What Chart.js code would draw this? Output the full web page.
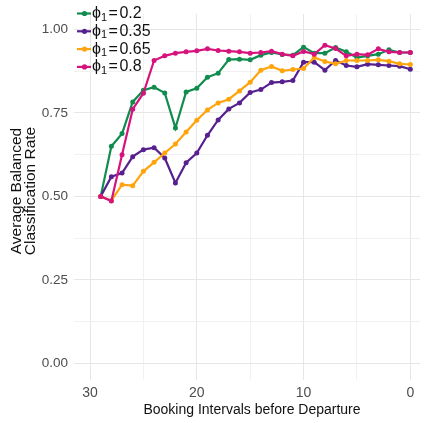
<!DOCTYPE html>
<html>
<head>
<meta charset="utf-8">
<script src="https://cdn.jsdelivr.net/npm/chart.js@4"></script>
<style>
  html, body { margin: 0; padding: 0; background: #ffffff; overflow: hidden; }
  #wrap { width: 424px; height: 423px; position: relative; }
</style>
</head>
<body>
<div id="wrap"><canvas id="c" width="424" height="423"></canvas></div>
<script>
// Booking intervals before departure (x), counted down to 0
const intervals = [29, 28, 27, 26, 25, 24, 23, 22, 21, 20, 19, 18, 17, 16, 15,
                   14, 13, 12, 11, 10, 9, 8, 7, 6, 5, 4, 3, 2, 1, 0];

// Average balanced classification rate for each phi_1 setting
const rate_phi_020 = [0.500, 0.650, 0.688, 0.783, 0.818, 0.827, 0.810, 0.705, 0.813, 0.824,
                      0.857, 0.869, 0.910, 0.911, 0.909, 0.923, 0.931, 0.925, 0.923, 0.947,
                      0.929, 0.929, 0.946, 0.933, 0.916, 0.921, 0.926, 0.939, 0.931, 0.931];
const rate_phi_035 = [0.500, 0.559, 0.570, 0.619, 0.640, 0.646, 0.615, 0.540, 0.601, 0.630,
                      0.683, 0.729, 0.762, 0.780, 0.811, 0.820, 0.841, 0.843, 0.847, 0.902,
                      0.902, 0.878, 0.907, 0.892, 0.888, 0.896, 0.894, 0.892, 0.890, 0.881];
const rate_phi_065 = [0.500, 0.487, 0.535, 0.532, 0.575, 0.602, 0.630, 0.657, 0.693, 0.728,
                      0.759, 0.780, 0.791, 0.816, 0.842, 0.878, 0.889, 0.876, 0.880, 0.883,
                      0.916, 0.904, 0.897, 0.907, 0.907, 0.907, 0.909, 0.905, 0.897, 0.895];
const rate_phi_080 = [0.500, 0.486, 0.625, 0.761, 0.809, 0.907, 0.921, 0.929, 0.933, 0.936,
                      0.942, 0.937, 0.935, 0.933, 0.929, 0.931, 0.935, 0.926, 0.921, 0.934,
                      0.926, 0.953, 0.943, 0.921, 0.926, 0.924, 0.942, 0.933, 0.931, 0.931];

const phiLabels = ['0.2', '0.35', '0.65', '0.8'];
const phiColors = ['#118c4f', '#57208f', '#ffa40d', '#d6137d'];
const phiSeries = [rate_phi_020, rate_phi_035, rate_phi_065, rate_phi_080];

// Grid positions (major + minor) and the subset that carries labels
const xGridValues = [0, 5, 10, 15, 20, 25, 30];
const xTickLabels = [0, 10, 20, 30];
const yGridValues = [0, 0.125, 0.25, 0.375, 0.5, 0.625, 0.75, 0.875, 1.0];
const yTickLabels = [0, 0.25, 0.5, 0.75, 1.0];

const xTitle = 'Booking Intervals before Departure';
const yTitle = ['Average Balanced', 'Classification Rate'];

const FONT = '"Liberation Sans", Arial, Helvetica, sans-serif';

function near(a, b) { return Math.abs(a - b) < 1e-6; }
function isLabelled(list, v) { return list.some(t => near(t, v)); }

const datasets = phiSeries.map((vals, i) => ({
  label: phiLabels[i],
  data: intervals.map((t, k) => ({ x: t, y: vals[k] })),
  borderColor: phiColors[i],
  backgroundColor: phiColors[i],
  pointBackgroundColor: phiColors[i],
  pointBorderWidth: 0,
  pointRadius: 2.5,
  borderWidth: 2.2,
  tension: 0,
  fill: false,
  order: phiSeries.length - i
}));

// Axis titles and the in-panel legend
const annotations = {
  id: 'annotations',
  afterDraw(chart) {
    const ctx = chart.ctx;
    ctx.save();
    ctx.fillStyle = '#111111';
    ctx.textAlign = 'center';
    ctx.textBaseline = 'middle';
    ctx.font = '14px ' + FONT;
    ctx.fillText(xTitle, 252, 410);

    ctx.save();
    ctx.translate(0, 191);
    ctx.rotate(-Math.PI / 2);
    ctx.font = '15.5px ' + FONT;
    ctx.fillText(yTitle[0], 0, 16.5);
    ctx.fillText(yTitle[1], 0, 31);
    ctx.restore();

    phiLabels.forEach((lab, i) => {
      const y = 13.5 + i * 17.8;
      ctx.strokeStyle = phiColors[i];
      ctx.lineWidth = 2.2;
      ctx.beginPath();
      ctx.moveTo(77, y);
      ctx.lineTo(91, y);
      ctx.stroke();
      ctx.fillStyle = phiColors[i];
      ctx.beginPath();
      ctx.arc(84.5, y, 2.6, 0, Math.PI * 2);
      ctx.fill();

      ctx.fillStyle = '#111111';
      ctx.textAlign = 'left';
      ctx.textBaseline = 'middle';
      let x = 92;
      ctx.font = '16px ' + FONT;
      ctx.fillText('\u03D5', x, y);
      x += ctx.measureText('\u03D5').width;
      ctx.font = '11px ' + FONT;
      ctx.fillText('1', x, y + 4);
      x += ctx.measureText('1').width + 1.5;
      ctx.font = '16px ' + FONT;
      ctx.fillText('=', x, y);
      x += ctx.measureText('=').width + 1.5;
      ctx.fillText(lab, x, y);
    });
    ctx.restore();
  }
};

new Chart(document.getElementById('c').getContext('2d'), {
  type: 'line',
  data: { datasets },
  options: {
    responsive: false,
    animation: false,
    layout: { padding: 0 },
    plugins: { legend: { display: false }, tooltip: { enabled: false } },
    scales: {
      x: {
        type: 'linear',
        reverse: true,
        min: -0.907,
        max: 31.5,
        afterBuildTicks(s) { s.ticks = xGridValues.map(v => ({ value: v })); },
        afterFit(s) { s.height = 43; },
        border: { display: false },
        grid: {
          drawTicks: false,
          lineWidth: 1,
          color: c => isLabelled(xTickLabels, c.tick.value) ? '#e6e6e6' : '#f1f1f1'
        },
        ticks: {
          autoSkip: false,
          maxRotation: 0,
          padding: 5,
          color: '#4d4d4d',
          font: { family: FONT, size: 14 },
          callback: v => isLabelled(xTickLabels, v) ? String(v) : ''
        }
      },
      y: {
        type: 'linear',
        min: -0.05,
        max: 1.046,
        afterBuildTicks(s) { s.ticks = yGridValues.map(v => ({ value: v })); },
        afterFit(s) { s.width = 74; },
        border: { display: false },
        grid: {
          drawTicks: false,
          lineWidth: 1,
          color: c => isLabelled(yTickLabels, c.tick.value) ? '#e6e6e6' : '#f1f1f1'
        },
        ticks: {
          autoSkip: false,
          padding: 6,
          color: '#4d4d4d',
          font: { family: FONT, size: 13.5 },
          callback: v => isLabelled(yTickLabels, v) ? v.toFixed(2) : ''
        }
      }
    }
  },
  plugins: [annotations]
});
</script>
</body>
</html>
